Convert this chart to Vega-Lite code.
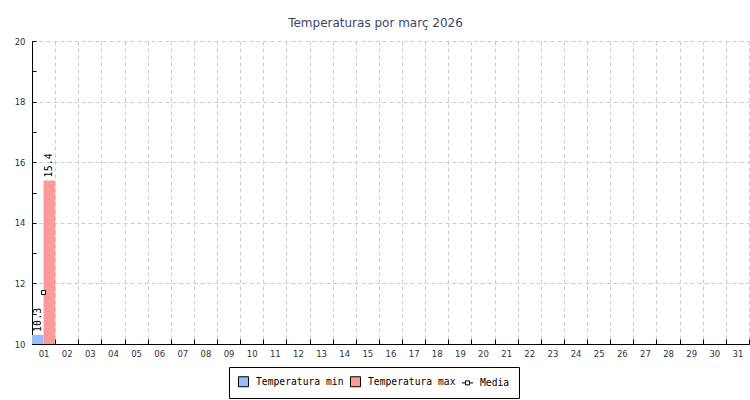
{
  "$schema": "https://vega.github.io/schema/vega-lite/v6.json",
  "width": 717,
  "height": 303,
  "autosize": {"type": "none"},
  "padding": {"left": 32, "top": 41, "right": 1, "bottom": 56},
  "background": "white",
  "title": {
    "text": "Temperaturas por març 2026",
    "font": "DejaVu Sans",
    "fontSize": 12,
    "fontWeight": "normal",
    "color": "#3b4766",
    "anchor": "middle",
    "dx": -15,
    "offset": 7
  },
  "data": {
    "values": [
      {"dia": "01", "serie": "Temperatura min", "valor": 10.3},
      {"dia": "01", "serie": "Temperatura max", "valor": 15.4},
      {"dia": "01", "serie": "Media", "valor": 11.7}
    ]
  },
  "encoding": {
    "x": {
      "field": "dia",
      "type": "ordinal",
      "scale": {
        "domain": ["01","02","03","04","05","06","07","08","09","10","11","12","13","14","15","16","17","18","19","20","21","22","23","24","25","26","27","28","29","30","31"],
        "paddingInner": 0,
        "paddingOuter": 0
      },
      "axis": {
        "title": null,
        "grid": true,
        "tickBand": "extent",
        "labelAngle": 0,
        "domainColor": "black",
        "tickColor": "black",
        "tickSize": -5,
        "labelPadding": 10,
        "gridColor": "#cccccc",
        "gridDash": [4, 3],
        "labelFont": "DejaVu Sans",
        "labelFontSize": 8.5,
        "labelColor": "#333333"
      }
    },
    "y": {
      "field": "valor",
      "type": "quantitative",
      "scale": {"domain": [10, 20], "nice": false, "zero": false},
      "axis": {
        "title": null,
        "values": [10,10.5,11,11.5,12,12.5,13,13.5,14,14.5,15,15.5,16,16.5,17,17.5,18,18.5,19,19.5,20],
        "format": "d",
        "labelExpr": "datum.value % 2 === 0 ? datum.label : ''",
        "grid": true,
        "gridOpacity": {"condition": {"test": "datum.value % 2 === 0 && datum.value > 10", "value": 1}, "value": 0},
        "gridColor": "#cccccc",
        "gridDash": [4, 3],
        "domainColor": "black",
        "tickColor": "black",
        "tickSize": -4,
        "labelPadding": 11,
        "labelFont": "DejaVu Sans",
        "labelFontSize": 8.5,
        "labelColor": "#333333"
      }
    }
  },
  "layer": [
    {
      "transform": [{"filter": "datum.serie !== 'Media'"}],
      "mark": {"type": "bar"},
      "encoding": {
        "xOffset": {"field": "serie", "type": "nominal", "scale": {"domain": ["Temperatura min", "Temperatura max"], "paddingInner": 0, "paddingOuter": 0}},
        "y2": {"datum": 10},
        "color": {
          "field": "serie",
          "type": "nominal",
          "scale": {"domain": ["Temperatura min", "Temperatura max", "Media"], "range": ["#99bbff", "#ff9999", "#ffffff"]},
          "legend": {
            "title": null,
            "orient": "none",
            "legendX": 197,
            "legendY": 326,
            "direction": "horizontal",
            "strokeColor": "black",
            "fillColor": "white",
            "padding": 9,
            "labelFont": "DejaVu Sans Mono",
            "labelFontSize": 9.7,
            "labelColor": "black",
            "symbolSize": 100,
            "symbolType": "square",
            "labelOffset": 7,
            "columnPadding": 4,
            "symbolStrokeColor": "black",
            "symbolStrokeWidth": 1,
            "encode": {
              "symbols": {
                "update": {
                  "shape": {"signal": "datum.value === 'Media' ? 'M-1.1,0H-0.4M0.4,0H1.1M-0.4,-0.4H0.4V0.4H-0.4Z' : 'square'"},
                  "stroke": {"value": "black"},
                  "strokeWidth": {"value": 1}
                }
              }
            }
          }
        }
      }
    },
    {
      "transform": [{"filter": "datum.serie !== 'Media'"}],
      "mark": {"type": "text", "angle": 270, "align": "left", "baseline": "middle", "dx": 3, "font": "DejaVu Sans Mono", "fontSize": 10, "color": "black"},
      "encoding": {
        "xOffset": {"field": "serie", "type": "nominal", "scale": {"domain": ["Temperatura min", "Temperatura max"], "paddingInner": 0, "paddingOuter": 0}},
        "text": {"field": "valor", "type": "quantitative", "format": ".1f"}
      }
    },
    {
      "transform": [{"filter": "datum.serie === 'Media'"}],
      "mark": {"type": "point", "shape": "square", "filled": true, "size": 16, "stroke": "black", "strokeWidth": 1, "opacity": 1},
      "encoding": {
        "color": {"field": "serie", "type": "nominal"}
      }
    }
  ],
  "config": {
    "view": {"stroke": null}
  }
}
